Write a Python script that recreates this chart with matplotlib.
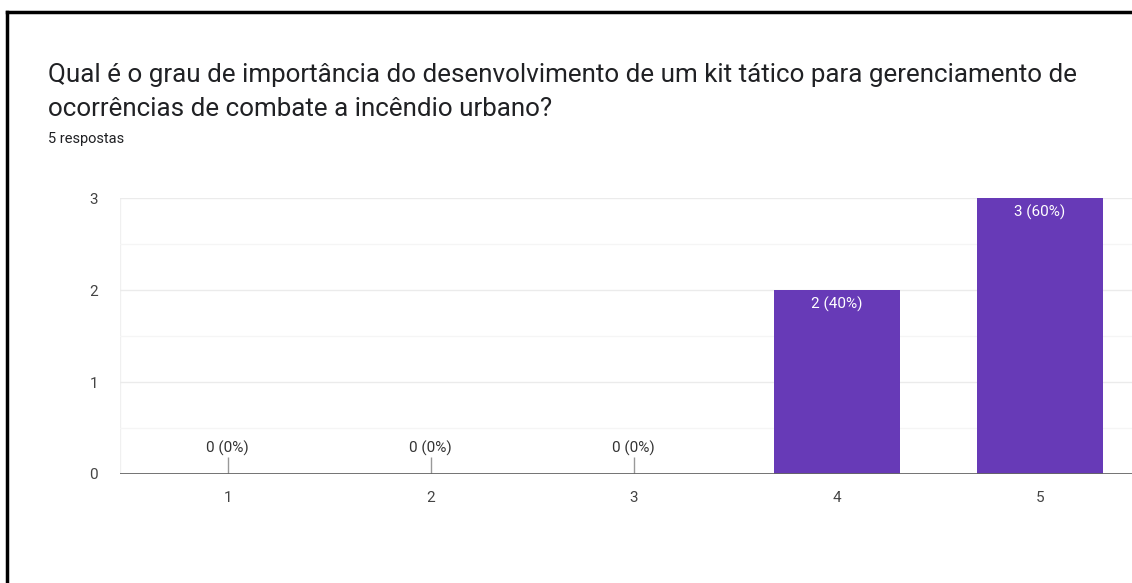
import matplotlib
matplotlib.use("Agg")
import matplotlib.pyplot as plt
from matplotlib.lines import Line2D

# Data
categories = [1, 2, 3, 4, 5]
counts = [0, 0, 0, 2, 3]
total = 5
title = ("Qual é o grau de importância do desenvolvimento de um kit tático para gerenciamento de\n"
         "ocorrências de combate a incêndio urbano?")
subtitle = "5 respostas"

purple = "#673ab7"

plt.rcParams['font.family'] = ['Roboto', 'DejaVu Sans']

fig = plt.figure(figsize=(11.32, 5.83), dpi=100)
ax = fig.add_axes([0.106, 0.187, 0.894, 0.473])

ax.bar(categories, counts, width=0.62, color=purple, zorder=3)

for x, c in zip(categories, counts):
    label = f"{c} ({round(100 * c / total)}%)"
    if c == 0:
        ax.vlines(x, 0, 0.18, color="#999999", lw=1, zorder=3)
        ax.text(x, 0.2, label, ha="center", va="bottom", fontsize=11, color="#333333")
    else:
        ax.text(x, c - 0.07, label, ha="center", va="top", fontsize=11, color="white", zorder=4)

ax.set_xlim(0.47, 5.455)
ax.set_ylim(0, 3)
ax.set_yticks([0, 1, 2, 3])
ax.set_yticks([0.5, 1.5, 2.5], minor=True)
ax.set_xticks(categories)
ax.grid(axis="y", which="major", color="#ebebeb", lw=1, zorder=0)
ax.grid(axis="y", which="minor", color="#f5f5f5", lw=1, zorder=0)
ax.axhline(0, color="#666666", lw=2, zorder=5)
ax.axvline(0.47, color="#f0f0f0", lw=1, zorder=0)
for s in ax.spines.values():
    s.set_visible(False)
ax.tick_params(axis="both", which="both", length=0, labelsize=11, colors="#444444")
ax.tick_params(axis="y", pad=16)
ax.tick_params(axis="x", pad=12)

fig.text(48 / 1132, 1 - 92 / 583, title, fontsize=18.7, color="#202124",
         va="center", linespacing=1.5)
fig.text(48 / 1132, 1 - 139 / 583, subtitle, fontsize=10.5, color="#202124", va="center")

# black frame on the left and top edges
fig.add_artist(Line2D([7 / 1132, 7 / 1132], [0, 1 - 12 / 583], transform=fig.transFigure,
                      color="black", lw=2.5))
fig.add_artist(Line2D([7 / 1132, 1], [1 - 12 / 583, 1 - 12 / 583], transform=fig.transFigure,
                      color="black", lw=2.5))

fig.savefig("out.png", dpi=100)
